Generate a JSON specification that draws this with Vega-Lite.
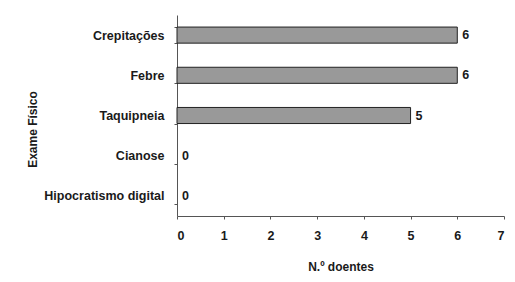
{
  "$schema": "https://vega.github.io/schema/vega-lite/v6.json",
  "autosize": {"type": "none"},
  "width": 327,
  "height": 201,
  "padding": {"left": 177, "top": 15, "right": 11, "bottom": 66},
  "background": "white",
  "config": {
    "view": {"stroke": null},
    "font": "Liberation Sans",
    "text": {"font": "Liberation Sans"}
  },
  "data": {
    "values": [
      {"exame": "Crepitações", "n": 6},
      {"exame": "Febre", "n": 6},
      {"exame": "Taquipneia", "n": 5},
      {"exame": "Cianose", "n": 0},
      {"exame": "Hipocratismo digital", "n": 0}
    ]
  },
  "encoding": {
    "y": {
      "field": "exame",
      "type": "nominal",
      "sort": null,
      "scale": {"paddingInner": 0.6, "paddingOuter": 0.3},
      "axis": {
        "title": "Exame Físico",
        "titleFont": "Liberation Sans",
        "titleFontSize": 12,
        "titleFontWeight": "bold",
        "titleColor": "#1a1a1a",
        "titleAngle": -90,
        "titleBaseline": "alphabetic",
        "titleAlign": "center",
        "titleX": -141,
        "titleY": 114,
        "labelFont": "Liberation Sans",
        "labelFontSize": 12.5,
        "labelFontWeight": "bold",
        "labelColor": "#1a1a1a",
        "labelPadding": 10,
        "tickBand": "extent",
        "tickSize": 3,
        "tickColor": "#555",
        "domainColor": "#555",
        "grid": false
      }
    },
    "x": {
      "field": "n",
      "type": "quantitative",
      "scale": {"domain": [0, 7], "nice": false},
      "axis": {
        "title": "N.º doentes",
        "titleFont": "Liberation Sans",
        "titleFontSize": 12,
        "titleFontWeight": "bold",
        "titleColor": "#1a1a1a",
        "titlePadding": 20,
        "labelFont": "Liberation Sans",
        "labelFontSize": 12.5,
        "labelFontWeight": "bold",
        "labelColor": "#1a1a1a",
        "labelPadding": 10,
        "labelOverlap": false,
        "values": [0, 1, 2, 3, 4, 5, 6, 7],
        "format": "d",
        "tickSize": 3,
        "tickColor": "#555",
        "domainColor": "#555",
        "grid": false
      }
    }
  },
  "layer": [
    {
      "mark": {"type": "bar", "fill": "#999999", "stroke": "#222222"},
      "encoding": {
        "strokeWidth": {"condition": {"test": "datum.n === 0", "value": 0}, "value": 1}
      }
    },
    {
      "mark": {"type": "text", "align": "left", "baseline": "middle", "dx": 5, "font": "Liberation Sans", "fontSize": 12.5, "fontWeight": "bold", "color": "#1a1a1a"},
      "encoding": {"text": {"field": "n", "type": "quantitative"}}
    }
  ]
}
